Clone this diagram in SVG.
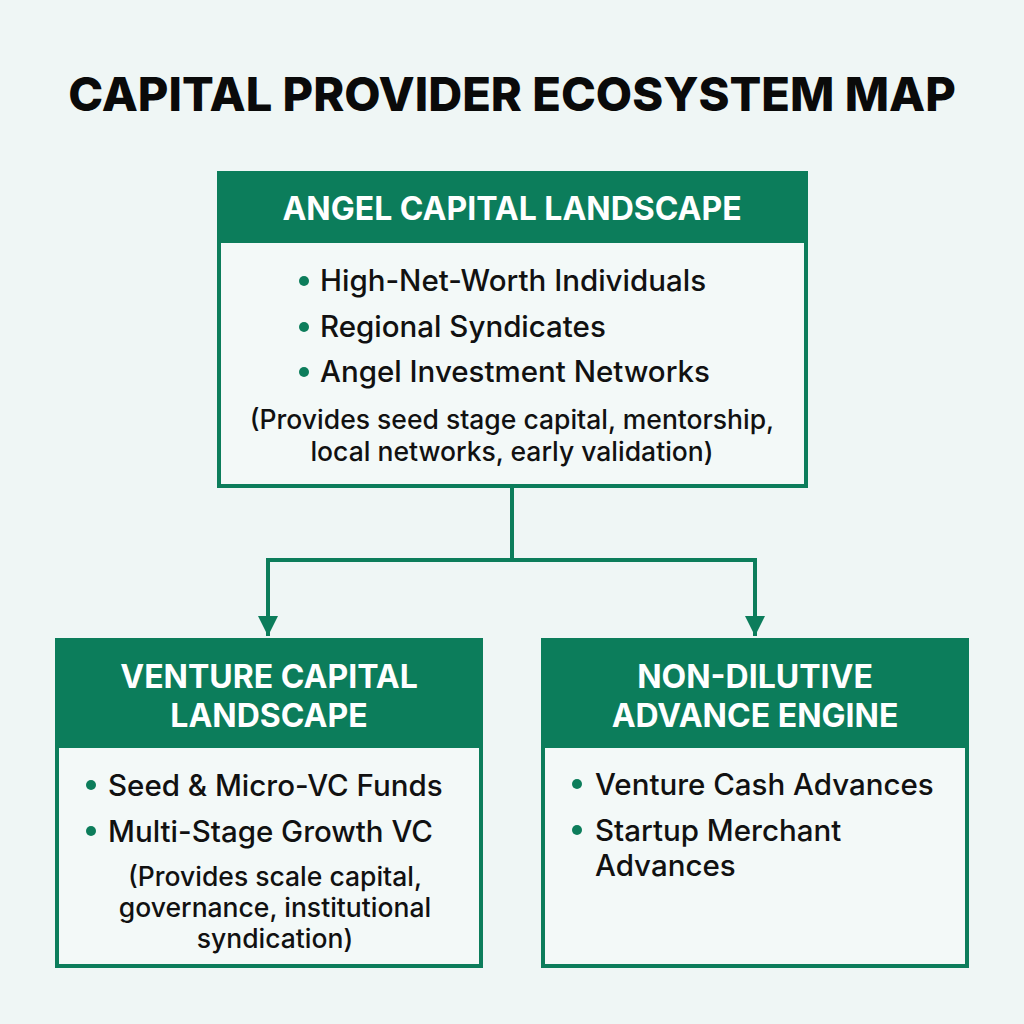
<svg xmlns="http://www.w3.org/2000/svg" width="1024" height="1024" viewBox="0 0 1024 1024">
  <style>
    .title { font-family: Inter, "Liberation Sans", sans-serif; font-weight: 800; font-size: 47px; fill: #0a0a0a; }
    .box { fill: #f3f9f8; stroke: #0c7d5b; stroke-width: 4; }
    .band { fill: #0c7d5b; }
    .head { font-family: Inter, "Liberation Sans", sans-serif; font-weight: 700; font-size: 32px; fill: #ffffff; text-anchor: middle; }
    .item { font-family: Inter, "Liberation Sans", sans-serif; font-weight: 500; font-size: 29.5px; fill: #111111; }
    .note { font-family: Inter, "Liberation Sans", sans-serif; font-weight: 500; font-size: 26.5px; fill: #111111; text-anchor: middle; }
    .dot { fill: #0c7d5b; }
    .wire { fill: none; stroke: #0c7d5b; stroke-width: 4; }
  </style>
  <defs>
    <marker id="arrow" viewBox="0 0 10 10" refX="10" refY="5" markerWidth="5" markerHeight="6" markerUnits="strokeWidth" orient="auto">
      <path d="M0,0 L10,5 L0,10 Z" fill="#0c7d5b"/>
    </marker>
  </defs>

  <rect x="0" y="0" width="1024" height="1024" fill="#eff6f5"/>

  <text class="title" x="512" y="111" text-anchor="middle">CAPITAL PROVIDER ECOSYSTEM MAP</text>

  <g id="connectors">
    <path class="wire" d="M512,488 V560 H268 V636" marker-end="url(#arrow)"/>
    <path class="wire" d="M512,560 H755 V636" marker-end="url(#arrow)"/>
  </g>

  <g id="angel">
    <rect class="box" x="219" y="173" width="587" height="313"/>
    <rect class="band" x="219" y="173" width="587" height="70"/>
    <text class="head" x="512" y="220">ANGEL CAPITAL LANDSCAPE</text>
    <circle class="dot" cx="304" cy="281" r="5"/>
    <text class="item" x="320" y="291">High-Net-Worth Individuals</text>
    <circle class="dot" cx="304" cy="327" r="5"/>
    <text class="item" x="320" y="337">Regional Syndicates</text>
    <circle class="dot" cx="304" cy="372" r="5"/>
    <text class="item" x="320" y="382">Angel Investment Networks</text>
    <text class="note" x="512" y="429">(Provides seed stage capital, mentorship,</text>
    <text class="note" x="512" y="461">local networks, early validation)</text>
  </g>

  <g id="venture">
    <rect class="box" x="57" y="640" width="424" height="326"/>
    <rect class="band" x="57" y="640" width="424" height="108"/>
    <text class="head" x="269" y="688">VENTURE CAPITAL</text>
    <text class="head" x="269" y="727">LANDSCAPE</text>
    <circle class="dot" cx="91" cy="785" r="5"/>
    <text class="item" x="108" y="796">Seed &amp; Micro-VC Funds</text>
    <circle class="dot" cx="91" cy="831" r="5"/>
    <text class="item" x="108" y="842">Multi-Stage Growth VC</text>
    <text class="note" x="275" y="886">(Provides scale capital,</text>
    <text class="note" x="275" y="917">governance, institutional</text>
    <text class="note" x="275" y="948">syndication)</text>
  </g>

  <g id="nondilutive">
    <rect class="box" x="543" y="640" width="424" height="326"/>
    <rect class="band" x="543" y="640" width="424" height="108"/>
    <text class="head" x="755" y="688">NON-DILUTIVE</text>
    <text class="head" x="755" y="727">ADVANCE ENGINE</text>
    <circle class="dot" cx="577" cy="784" r="5"/>
    <text class="item" x="595" y="795">Venture Cash Advances</text>
    <circle class="dot" cx="577" cy="830" r="5"/>
    <text class="item" x="595" y="841">Startup Merchant</text>
    <text class="item" x="595" y="876">Advances</text>
  </g>
</svg>
